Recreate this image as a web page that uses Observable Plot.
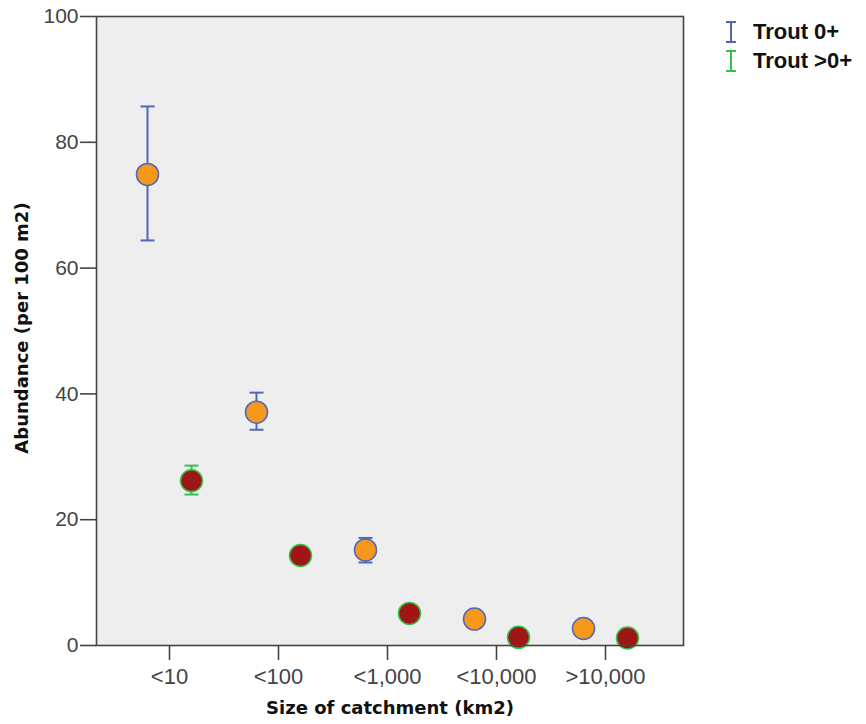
<!DOCTYPE html>
<html>
<head>
<meta charset="utf-8">
<script src="https://cdn.jsdelivr.net/npm/d3@7"></script>
<script src="https://cdn.jsdelivr.net/npm/@observablehq/plot@0.6"></script>
<style>
  html, body { margin: 0; padding: 0; background: #fff; }
  #wrap { position: relative; width: 866px; height: 724px; }
  #legend { position: absolute; left: 725px; top: 17px; font-family: "Liberation Sans", Arial, sans-serif; font-weight: bold; font-size: 22px; color: #111; }
  .item { display: flex; align-items: center; height: 29px; }
  .item svg { margin-right: 16px; }
</style>
</head>
<body>
<div id="wrap">
  <div id="chart"></div>
  <div id="legend"></div>
</div>
<script>
const categories = ["<10", "<100", "<1,000", "<10,000", ">10,000"];
const trout0Mean = [74.9, 37.1, 15.2, 4.2, 2.7];
const trout0Low  = [64.4, 34.3, 13.2, null, null];
const trout0High = [85.7, 40.2, 17.1, null, null];
const troutOlderMean = [26.2, 14.3, 5.1, 1.3, 1.2];
const troutOlderLow  = [24.0, null, null, null, null];
const troutOlderHigh = [28.6, null, null, null, null];
const seriesNames = ["Trout 0+", "Trout >0+"];
const yTicks = [0, 20, 40, 60, 80, 100];

const colors = {
  "Trout 0+": {fill: "#F7981D", stroke: "#5068B8"},
  "Trout >0+": {fill: "#A01515", stroke: "#35C04A"}
};
const offsets = {"Trout 0+": -22, "Trout >0+": 22};

function rows(name, mean, lo, hi) {
  return categories.map((c, i) => ({cat: c, series: name, mean: mean[i], lo: lo[i], hi: hi[i]}));
}
const data = [
  ...rows(seriesNames[0], trout0Mean, trout0Low, trout0High),
  ...rows(seriesNames[1], troutOlderMean, troutOlderLow, troutOlderHigh)
];

const hbar = { draw(ctx, size) { const w = Math.sqrt(size / Math.PI); ctx.moveTo(-w, 0); ctx.lineTo(w, 0); } };

const marks = [
  Plot.frame({fill: "#EEEEEE", stroke: "none"})
];
for (const s of seriesNames) {
  const d = data.filter(r => r.series === s);
  const e = d.filter(r => r.lo != null);
  const col = colors[s];
  const dx = offsets[s];
  marks.push(
    Plot.ruleX(e, {x: "cat", y1: "lo", y2: "hi", dx, stroke: col.stroke, strokeWidth: 2}),
    Plot.dot(e, {x: "cat", y: "lo", dx, symbol: hbar, r: 7, stroke: col.stroke, strokeWidth: 2}),
    Plot.dot(e, {x: "cat", y: "hi", dx, symbol: hbar, r: 7, stroke: col.stroke, strokeWidth: 2}),
    Plot.dot(d, {x: "cat", y: "mean", dx, r: 11, fill: col.fill, stroke: col.stroke, strokeWidth: 1.5})
  );
}
marks.push(
  Plot.frame({stroke: "#444", strokeWidth: 1.6}),
  Plot.axisY({ticks: yTicks, tickSize: 16, tickPadding: 2, label: null, fontSize: 21, fill: "#444", stroke: "#444", strokeWidth: 1.6}),
  Plot.axisX({tickSize: 15, tickPadding: 8, label: null, fontSize: 22, fill: "#444", stroke: "#444", strokeWidth: 1.6}),
  Plot.text(["Abundance (per 100 m2)"], {frameAnchor: "left", rotate: -90, textAnchor: "middle", lineAnchor: "middle", dx: -74, dy: -3, fontSize: 18, fontWeight: "bold", fill: "#111", fontFamily: "DejaVu Sans, Verdana, sans-serif"}),
  Plot.text(["Size of catchment (km2)"], {frameAnchor: "bottom", textAnchor: "middle", lineAnchor: "middle", dy: 63, fontSize: 18, fontWeight: "bold", fill: "#111", fontFamily: "DejaVu Sans, Verdana, sans-serif"})
);

const chart = Plot.plot({
  width: 866,
  height: 724,
  marginLeft: 96,
  marginRight: 183,
  marginTop: 16,
  marginBottom: 79,
  style: {fontFamily: "Liberation Sans, Arial, sans-serif", background: "#fff", overflow: "visible"},
  x: {type: "point", domain: categories, padding: 0.682, align: 0.483},
  y: {domain: [0, 100]},
  marks
});
document.getElementById("chart").append(chart);

const legend = document.getElementById("legend");
for (const s of seriesNames) {
  const item = document.createElement("div");
  item.className = "item";
  const c = colors[s].stroke;
  item.innerHTML = `<svg width="12" height="22"><line x1="6" y1="1" x2="6" y2="21" stroke="${c}" stroke-width="2"/><line x1="1" y1="1" x2="11" y2="1" stroke="${c}" stroke-width="2"/><line x1="1" y1="21" x2="11" y2="21" stroke="${c}" stroke-width="2"/></svg><span>${s}</span>`;
  legend.append(item);
}
</script>
</body>
</html>
